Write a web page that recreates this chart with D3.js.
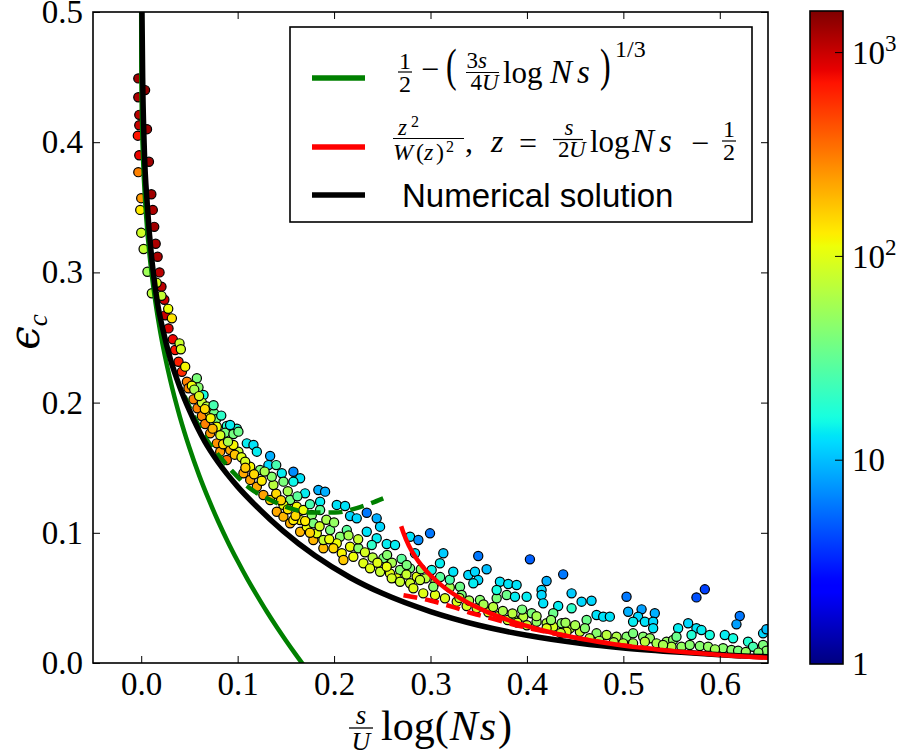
<!DOCTYPE html>
<meta charset="utf-8">
<style>
body { margin: 0; background: #fff; }
svg text { font-family: "Liberation Serif", "DejaVu Serif", serif; fill: #000; }
.tick text { font-size: 33px; }
.tick line { stroke: #000; stroke-width: 1; }
</style>
<body>
<svg id="chart" width="898" height="750"></svg>
<script src="https://cdnjs.cloudflare.com/ajax/libs/d3/7.8.5/d3.min.js"></script>
<script>
// ---- data ----
var xTicks = [0.0, 0.1, 0.2, 0.3, 0.4, 0.5, 0.6];
var yTicks = [0.0, 0.1, 0.2, 0.3, 0.4, 0.5];
var cbTicks = [1, 10, 100, 1000];
var cbMax = 1600;

// numerical solution (black)
var blackX = [0.0008, 0.0015, 0.003, 0.0065, 0.0125, 0.017, 0.0225, 0.030, 0.040, 0.050, 0.066, 0.080, 0.100, 0.120, 0.147, 0.180, 0.217, 0.250, 0.300, 0.350, 0.400, 0.455, 0.500, 0.560, 0.600, 0.650];
var blackY = [0.500, 0.450, 0.400, 0.350, 0.300, 0.276, 0.256, 0.234, 0.212, 0.194, 0.170, 0.154, 0.1355, 0.120, 0.1015, 0.0825, 0.0655, 0.0535, 0.0395, 0.0290, 0.0213, 0.0152, 0.0116, 0.0082, 0.0064, 0.0048];
// small-x approximation (green)
var greenX = [0, 0.0001, 0.0005, 0.001, 0.002, 0.004, 0.006, 0.008, 0.01, 0.015, 0.02, 0.03, 0.04, 0.05, 0.06, 0.07, 0.08, 0.09, 0.10, 0.11, 0.12, 0.13, 0.14, 0.15, 0.16, 0.17];
var greenY = [0.5, 0.4578, 0.4279, 0.4091, 0.3855, 0.3558, 0.3349, 0.3183, 0.3043, 0.2759, 0.2534, 0.2177, 0.1893, 0.1653, 0.1443, 0.1256, 0.1085, 0.0928, 0.0783, 0.0646, 0.0519, 0.0397, 0.0282, 0.0173, 0.0068, -0.0033];
var greenDashX = [0.045, 0.055, 0.068, 0.082, 0.096, 0.113, 0.132, 0.154, 0.177, 0.201, 0.2235, 0.251];
var greenDashY = [0.205, 0.189, 0.1715, 0.158, 0.146, 0.134, 0.126, 0.119, 0.1155, 0.1155, 0.119, 0.1265];
// large-x approximation (red)
var redX = [0.2696, 0.2719, 0.2776, 0.2856, 0.2964, 0.3109, 0.3301, 0.3562, 0.3926, 0.4167, 0.4468, 0.4856, 0.5155, 0.5395, 0.5682, 0.6037, 0.6254, 0.6508];
var redY = [0.105, 0.100, 0.090, 0.080, 0.070, 0.060, 0.050, 0.040, 0.030, 0.025, 0.020, 0.015, 0.012, 0.010, 0.008, 0.006, 0.005, 0.004];
var redDashX = [0.272, 0.2995, 0.322, 0.344, 0.367, 0.389, 0.41, 0.45, 0.5, 0.55, 0.6, 0.65];
var redDashY = [0.052, 0.048, 0.0433, 0.038, 0.0335, 0.029, 0.0255, 0.0195, 0.0135, 0.0093, 0.0062, 0.0041];

// simulation points [x, eps, colour value]
var ptsTop = [
  [-0.003,0.449,1300],[-0.003,0.4345,1200],[-0.002,0.421,1100],[-0.002,0.413,1000],[-0.0035,0.405,700],
  [-0.002,0.390,800],[-0.003,0.377,300],[0.000,0.357,250],[-0.001,0.348,130],[0.000,0.3305,85],
  [0.0025,0.318,75],[0.0065,0.3005,55],[0.011,0.284,70],
  [0.004,0.44,1400],[0.006,0.41,1300],[0.008,0.385,1300],[0.0105,0.36,1300],[0.012,0.348,1200],
  [0.0135,0.335,1300],[0.015,0.322,1200],[0.017,0.312,1200],[0.019,0.300,1100],[0.021,0.289,1100],
  [0.024,0.279,1000],[0.016,0.292,90],[0.021,0.282,75]
];
var ptsUpper = [
  [0.0249,0.267,1000],[0.0283,0.257,900],[0.0328,0.2486,800],[0.0352,0.2404,700],[0.0387,0.2314,650],[0.0422,0.2237,600],
  [0.0318,0.2647,140],[0.0397,0.2455,80],[0.0411,0.241,90],[0.0456,0.2276,120],[0.028,0.272,110],
  [0.0474,0.216,300],[0.049,0.211,280],[0.0542,0.2025,290],[0.0583,0.1956,300],[0.0629,0.1897,280],[0.0663,0.1836,300],
  [0.0577,0.2187,40],[0.0594,0.2117,45],[0.0646,0.2058,16],[0.0629,0.200,80],[0.068,0.197,70],[0.0708,0.1922,100],
  [0.0756,0.1918,35],[0.0777,0.1872,40],[0.0784,0.1815,110],[0.0888,0.182,18],[0.0992,0.180,17],[0.087,0.1769,40],
  [0.0956,0.1759,38],[0.0715,0.1764,260],[0.0784,0.1687,270],[0.0819,0.1623,250],[0.0888,0.1559,350],[0.0922,0.1828,14],
  [0.1008,0.1777,35],[0.1008,0.1623,80],[0.0922,0.1636,220],[0.0956,0.1674,120],[0.0525,0.213,110],
  [0.055,0.21,60],[0.06,0.205,90],[0.066,0.195,150],[0.072,0.188,120],[0.074,0.18,200],[0.082,0.175,90],
  [0.085,0.168,150],[0.09,0.17,60],[0.097,0.16,180],[0.104,0.158,100],[0.075,0.198,25],[0.083,0.19,20]
];
var ptsMiddle = [
  [0.1095,0.1687,14],[0.1164,0.1674,13],[0.1199,0.1623,14],[0.1337,0.159,9],[0.1319,0.152,12],[0.1233,0.1482,40],
  [0.113,0.1508,120],[0.1078,0.1546,90],[0.106,0.1457,220],[0.113,0.1406,230],[0.1199,0.1354,220],[0.1267,0.129,230],
  [0.1337,0.1252,170],[0.1406,0.1162,220],[0.1475,0.1124,200],[0.1544,0.1073,210],[0.1648,0.1008,200],[0.1785,0.0945,200],
  [0.1889,0.0881,190],[0.1458,0.1457,14],[0.1578,0.1469,7],[0.1648,0.1419,13],[0.1578,0.1393,15],[0.1475,0.1393,40],
  [0.1371,0.1367,70],[0.1354,0.1431,45],[0.1699,0.1303,14],[0.1837,0.1329,9],[0.1907,0.1316,9],[0.1855,0.1239,14],
  [0.1855,0.1175,30],[0.1544,0.1252,40],[0.1475,0.1214,110],[0.1613,0.120,120],[0.1682,0.1175,110],[0.1769,0.1137,45],
  [0.1648,0.1098,120],[0.1717,0.1047,110],[0.1785,0.1073,40],[0.1821,0.0996,100],[0.1889,0.0945,80],[0.1959,0.1021,40],
  [0.1578,0.1098,130],[0.2028,0.1214,13],[0.2114,0.1206,13],[0.2166,0.1129,12],[0.2235,0.1111,12],[0.2339,0.1154,6],
  [0.2442,0.1111,9],[0.2477,0.1047,12],[0.2339,0.1008,13],[0.2442,0.0958,14],[0.2391,0.0906,20],[0.2546,0.0914,14],
  [0.2632,0.0906,14],[0.2788,0.097,13],[0.2874,0.0945,7],[0.2995,0.0996,6],[0.3133,0.0843,11],[0.3098,0.0766,14],
  [0.3012,0.0714,15],[0.2132,0.1021,30],[0.2062,0.097,45],[0.2028,0.0919,110],[0.2166,0.0893,110],[0.2252,0.0881,45],
  [0.1993,0.0881,150],[0.22,0.0816,110],[0.2304,0.0766,100],[0.2373,0.0727,100],[0.2511,0.0804,40],[0.2477,0.0701,80],
  [0.258,0.0688,100],[0.2684,0.0714,45],[0.2788,0.0727,40],[0.265,0.065,110],[0.2857,0.0663,100],[0.208,0.0843,120],
  [0.2097,0.0791,170],
  [0.108,0.15,170],[0.117,0.145,150],[0.125,0.14,130],[0.128,0.147,60],[0.14,0.13,150],[0.145,0.125,160],
  [0.152,0.118,140],[0.16,0.113,150],[0.17,0.109,130],[0.175,0.1,160],[0.185,0.105,90],[0.195,0.095,110],
  [0.14,0.152,25],[0.152,0.132,60],[0.162,0.128,30],[0.175,0.122,25],[0.192,0.11,60],[0.2,0.108,50],
  [0.215,0.098,60],[0.225,0.095,80],[0.232,0.085,90],[0.24,0.081,70],[0.245,0.077,100],[0.255,0.083,45],
  [0.26,0.077,60],[0.27,0.08,30],[0.275,0.068,80],[0.29,0.072,50],[0.295,0.065,70],[0.305,0.062,60],
  [0.31,0.066,30],[0.32,0.058,60],[0.32,0.064,25]
];
var ptsTail = [
  [0.2839,0.0843,13],[0.3236,0.0701,13],[0.3495,0.0822,6],[0.3582,0.072,10],[0.3392,0.0676,12],[0.3461,0.0701,12],
  [0.3495,0.0637,12],[0.3444,0.0612,14],[0.3306,0.0586,35],[0.3323,0.0522,40],[0.2753,0.0753,40],[0.2546,0.074,110],
  [0.2598,0.065,90],[0.2684,0.0624,80],[0.2788,0.0612,85],[0.2891,0.0637,80],[0.2822,0.0574,100],[0.2925,0.0535,100],
  [0.3047,0.0522,100],[0.315,0.0497,95],[0.3272,0.0471,95],[0.3375,0.0438,90],[0.3479,0.042,85],[0.3029,0.0586,45],
  [0.3513,0.0484,45],[0.3686,0.0497,40],[0.379,0.0522,35],[0.372,0.0624,13],[0.3806,0.0607,13],[0.3893,0.0599,13],
  [0.3686,0.0561,16],[0.3876,0.0509,14],[0.3997,0.0509,14],[0.4031,0.0796,5],[0.4204,0.063,9],[0.4376,0.0681,6],
  [0.4152,0.0561,12],[0.4152,0.0522,12],[0.4169,0.0458,13],[0.4324,0.0438,14],[0.4463,0.0535,11],[0.4567,0.0471,12],
  [0.467,0.0478,12],[0.4463,0.042,20],[0.4273,0.0382,35],[0.4049,0.0382,40],[0.3962,0.0356,70],[0.3858,0.0343,50],
  [0.41,0.0317,50],[0.4204,0.0305,70],[0.4273,0.0279,90],[0.436,0.0305,45],[0.4446,0.0267,70],[0.4549,0.024,75],
  [0.4619,0.033,35],[0.4601,0.0267,45],[0.4722,0.0369,13],[0.4791,0.0356,13],[0.486,0.0356,13],[0.5033,0.0509,6],
  [0.505,0.0394,9],[0.5189,0.0412,8],[0.5153,0.0356,12],[0.5223,0.0317,13],[0.5326,0.0382,9],[0.5309,0.0317,12],
  [0.5309,0.0267,13],[0.5101,0.0317,14],[0.4722,0.0228,45],[0.4826,0.0215,70],[0.4929,0.0202,65],[0.5033,0.0202,45],
  [0.5101,0.0228,40],[0.5205,0.0202,45],[0.5275,0.019,50],[0.5344,0.0151,60],[0.5448,0.0164,50],[0.5516,0.0177,45],
  [0.5568,0.0267,14],[0.5672,0.0305,12],[0.5758,0.0267,13],[0.581,0.0253,14],[0.5707,0.0215,18],[0.5896,0.0215,16],
  [0.5551,0.0202,35],[0.5499,0.0125,65],[0.5603,0.0125,50],[0.5689,0.0138,45],[0.5793,0.013,45],[0.5879,0.0125,50],
  [0.5758,0.0504,4.5],[0.5845,0.0566,4],[0.6207,0.0361,6],[0.6173,0.0297,8],[0.6052,0.0215,14],[0.6138,0.019,16],
  [0.6034,0.0113,45],[0.6121,0.010,45],[0.619,0.0094,40],[0.6293,0.0164,18],[0.6345,0.0125,25],[0.6449,0.0228,12],
  [0.6484,0.0259,10],[0.6449,0.0138,40],[0.6484,0.0094,45],[0.4998,0.0151,70],[0.5101,0.0151,60],[0.5223,0.0164,70],
  [0.5412,0.0138,60],[0.4411,0.024,90],[0.4204,0.0267,100],[0.36,0.039,90],[0.37,0.036,85],[0.38,0.033,80],
  [0.39,0.031,90],[0.40,0.029,80],[0.435,0.023,80],[0.465,0.019,70],[0.475,0.017,60],[0.49,0.016,65],
  [0.595,0.0105,55],[0.627,0.0085,50],[0.64,0.008,45],
  [0.33,0.05,70],[0.34,0.048,60],[0.355,0.045,60],[0.365,0.043,70],[0.375,0.04,60],[0.385,0.038,70],
  [0.395,0.041,40],[0.41,0.036,60],[0.425,0.033,50],[0.44,0.031,55],[0.45,0.029,60]
];

// ---- layout ----
var svg = d3.select("#chart");
var x = d3.scaleLinear().domain([-0.05, 0.65]).range([93, 768]);
var y = d3.scaleLinear().domain([0, 0.5]).range([663, 12]);

// jet colormap on a log scale
var jet = d3.scaleLinear()
  .domain([0, 0.11, 0.125, 0.34, 0.35, 0.375, 0.64, 0.65, 0.66, 0.89, 0.91, 1])
  .range(["rgb(0,0,127)", "rgb(0,0,255)", "rgb(0,0,255)", "rgb(0,219,255)", "rgb(0,229,247)", "rgb(21,255,226)",
          "rgb(238,255,8)", "rgb(247,245,0)", "rgb(255,236,0)", "rgb(255,19,0)", "rgb(232,0,0)", "rgb(127,0,0)"])
  .clamp(true);
var cNorm = d3.scaleLog().domain([1, cbMax]).range([0, 1]).clamp(true);
var color = function(v) { return jet(cNorm(v)); };

svg.append("defs").append("clipPath").attr("id", "plotclip")
  .append("rect").attr("x", x(-0.05)).attr("y", y(0.5))
  .attr("width", x(0.65) - x(-0.05)).attr("height", y(0) - y(0.5));

// scatter
var points = ptsTop.concat(ptsUpper, ptsMiddle, ptsTail);
svg.append("g").attr("clip-path", "url(#plotclip)")
  .selectAll("circle").data(points).enter().append("circle")
  .attr("cx", d => x(d[0]))
  .attr("cy", d => y(d[1]))
  .attr("r", 4.6)
  .style("fill", d => color(d[2]))
  .style("stroke", "#000")
  .style("stroke-width", 1.2);

// curves
var line = d3.line().x(d => x(d[0])).y(d => y(d[1])).curve(d3.curveMonotoneX);
function zip(a, b) { return a.map((v, i) => [v, b[i]]); }
var curves = svg.append("g").attr("clip-path", "url(#plotclip)").style("fill", "none");
curves.append("path").attr("d", line(zip(greenX, greenY))).style("stroke", "#008000").style("stroke-width", 4.5);
curves.append("path").attr("d", line(zip(greenDashX, greenDashY))).style("stroke", "#008000").style("stroke-width", 4.5).style("stroke-dasharray", "14,8");
curves.append("path").attr("d", line(zip(redDashX, redDashY))).style("stroke", "#ff0000").style("stroke-width", 4.5).style("stroke-dasharray", "14,8");
curves.append("path").attr("d", line(zip(blackX, blackY))).style("stroke", "#000").style("stroke-width", 5.5);
curves.append("path").attr("d", line(zip(redX, redY))).style("stroke", "#ff0000").style("stroke-width", 4.5);

// axes (ticks inside, on all four sides)
var fmt = d3.format(".1f");
svg.append("g").attr("transform", `translate(0,${y(0)})`)
  .call(d3.axisBottom(x).tickValues(xTicks).tickFormat(fmt).tickSizeInner(-7).tickSizeOuter(0).tickPadding(9))
  .call(g => g.select(".domain").remove());
svg.append("g").attr("transform", `translate(0,${y(0.5)})`)
  .call(d3.axisTop(x).tickValues(xTicks).tickFormat("").tickSizeInner(-7).tickSizeOuter(0))
  .call(g => g.select(".domain").remove());
svg.append("g").attr("transform", `translate(${x(-0.05)},0)`)
  .call(d3.axisLeft(y).tickValues(yTicks).tickFormat(fmt).tickSizeInner(-7).tickSizeOuter(0).tickPadding(10))
  .call(g => g.select(".domain").remove());
svg.append("g").attr("transform", `translate(${x(0.65)},0)`)
  .call(d3.axisRight(y).tickValues(yTicks).tickFormat("").tickSizeInner(-7).tickSizeOuter(0))
  .call(g => g.select(".domain").remove());
svg.selectAll(".tick text").style("font-family", "'Liberation Serif', serif");

svg.append("rect").attr("x", x(-0.05)).attr("y", y(0.5))
  .attr("width", x(0.65) - x(-0.05)).attr("height", y(0) - y(0.5))
  .style("fill", "none").style("stroke", "#000").style("stroke-width", 1.6);

// axis labels
var yl = svg.append("text").attr("transform", "translate(39,332) rotate(-90)").attr("text-anchor", "middle");
yl.append("tspan").text("ϵ").style("font-size", "42px").style("font-style", "italic").style("font-family", "'DejaVu Serif', serif");
yl.append("tspan").text("c").attr("dy", "8").style("font-size", "27px").style("font-style", "italic");

var xl = svg.append("g");
xl.append("text").attr("x", 361).attr("y", 724).attr("text-anchor", "middle").text("s").style("font-size", "27px").style("font-style", "italic");
xl.append("line").attr("x1", 349).attr("x2", 373).attr("y1", 728).attr("y2", 728).style("stroke", "#000").style("stroke-width", 1.3);
xl.append("text").attr("x", 361).attr("y", 750).attr("text-anchor", "middle").text("U").style("font-size", "26px").style("font-style", "italic");
var xt = xl.append("text").attr("x", 381).attr("y", 740).style("font-size", "42px");
xt.append("tspan").text("log(");
xt.append("tspan").text("N").style("font-style", "italic").attr("dx", 1);
xt.append("tspan").text("s").style("font-style", "italic").attr("dx", 2);
xt.append("tspan").text(")").attr("dx", 2);

// colorbar
var cbX = 810, cbW = 33;
var cy = d3.scaleLog().domain([1, cbMax]).range([664, 11]);
var grad = svg.select("defs").append("linearGradient").attr("id", "jetgrad")
  .attr("x1", 0).attr("y1", 1).attr("x2", 0).attr("y2", 0);
d3.range(0, 1.0001, 0.01).forEach(t => grad.append("stop").attr("offset", t).attr("stop-color", jet(t)));
svg.append("rect").attr("x", cbX).attr("y", cy(cbMax)).attr("width", cbW).attr("height", cy(1) - cy(cbMax))
  .style("fill", "url(#jetgrad)").style("stroke", "#000").style("stroke-width", 1.6);
var cbt = svg.append("g");
cbTicks.forEach(v => {
  if (v > 1) cbt.append("line").attr("x1", cbX + cbW - 8).attr("x2", cbX + cbW).attr("y1", cy(v)).attr("y2", cy(v))
    .style("stroke", "#000").style("stroke-width", 1);
  var lab = cbt.append("text").attr("x", cbX + 42).attr("y", cy(v)).attr("dy", "0.34em").style("font-size", "33px");
  if (v === 1) lab.text("1");
  else if (v === 10) lab.text("10");
  else {
    lab.append("tspan").text("10");
    lab.append("tspan").text(String(Math.round(Math.log10(v)))).attr("dy", "-13").style("font-size", "23px");
  }
});

// legend
var lg = svg.append("g");
lg.append("rect").attr("x", 290).attr("y", 27).attr("width", 462).attr("height", 195)
  .style("fill", "#fff").style("stroke", "#000").style("stroke-width", 1.6);
[["#008000", 78], ["#ff0000", 147], ["#000", 195]].forEach(s => {
  lg.append("line").attr("x1", 312).attr("x2", 365).attr("y1", s[1]).attr("y2", s[1])
    .style("stroke", s[0]).style("stroke-width", 5.5);
});
function tx(px, py, s, size, it, anchor) {
  return lg.append("text").attr("x", px).attr("y", py).text(s)
    .style("font-size", size + "px").style("font-style", it ? "italic" : "normal")
    .attr("text-anchor", anchor || "start");
}
function bar(x1, x2, py) {
  lg.append("line").attr("x1", x1).attr("x2", x2).attr("y1", py).attr("y2", py).style("stroke", "#000").style("stroke-width", 1.2);
}
function paren(px, py, s) {
  lg.append("text").attr("transform", `translate(${px},${py}) scale(1,1.45)`).text(s).style("font-size", "32px");
}
// 1/2 - (3s/4U log Ns)^(1/3)
tx(405, 69, "1", 24, false, "middle"); bar(398, 412, 72); tx(405, 92, "2", 24, false, "middle");
tx(430, 80, "\u2212", 32, false, "middle");
paren(446, 81, "(");
tx(478, 68, "3", 23, false, "end"); tx(478, 68, "s", 23, true);
bar(466, 499, 72.5);
tx(482, 90, "4", 23, false, "end"); tx(482, 90, "U", 23, true);
tx(503, 83, "log", 31, false);
tx(550, 83, "N", 33, true); tx(577, 83, "s", 33, true);
paren(600, 81, ")");
tx(615, 57, "1/3", 24, false);
// z^2/W(z)^2, z = s/2U log Ns - 1/2
tx(398, 135, "z", 23, true); tx(411, 127, "2", 16, false);
bar(393, 464, 138.5);
tx(393, 160, "W", 24, true); tx(416, 160, "(", 24, false); tx(424, 160, "z", 24, true); tx(436, 160, ")", 24, false); tx(446, 152, "2", 16, false);
tx(465, 152, ",", 32, false);
tx(491, 152, "z", 32, true);
tx(528, 154, "=", 32, false, "middle");
tx(569, 135, "s", 23, true, "middle"); bar(553, 583, 139.5); tx(558, 157, "2", 23, false); tx(569, 157, "U", 23, true);
tx(590, 152, "log", 31, false);
tx(632, 152, "N", 33, true); tx(659, 152, "s", 33, true);
tx(700, 154, "\u2212", 32, false, "middle");
tx(729, 137, "1", 24, false, "middle"); bar(722, 736, 141); tx(729, 160, "2", 24, false, "middle");
lg.append("text").attr("x", 402).attr("y", 207).text("Numerical solution")
  .style("font-family", "'Liberation Sans', Arial, sans-serif").style("font-size", "33px");
</script>
</body>
